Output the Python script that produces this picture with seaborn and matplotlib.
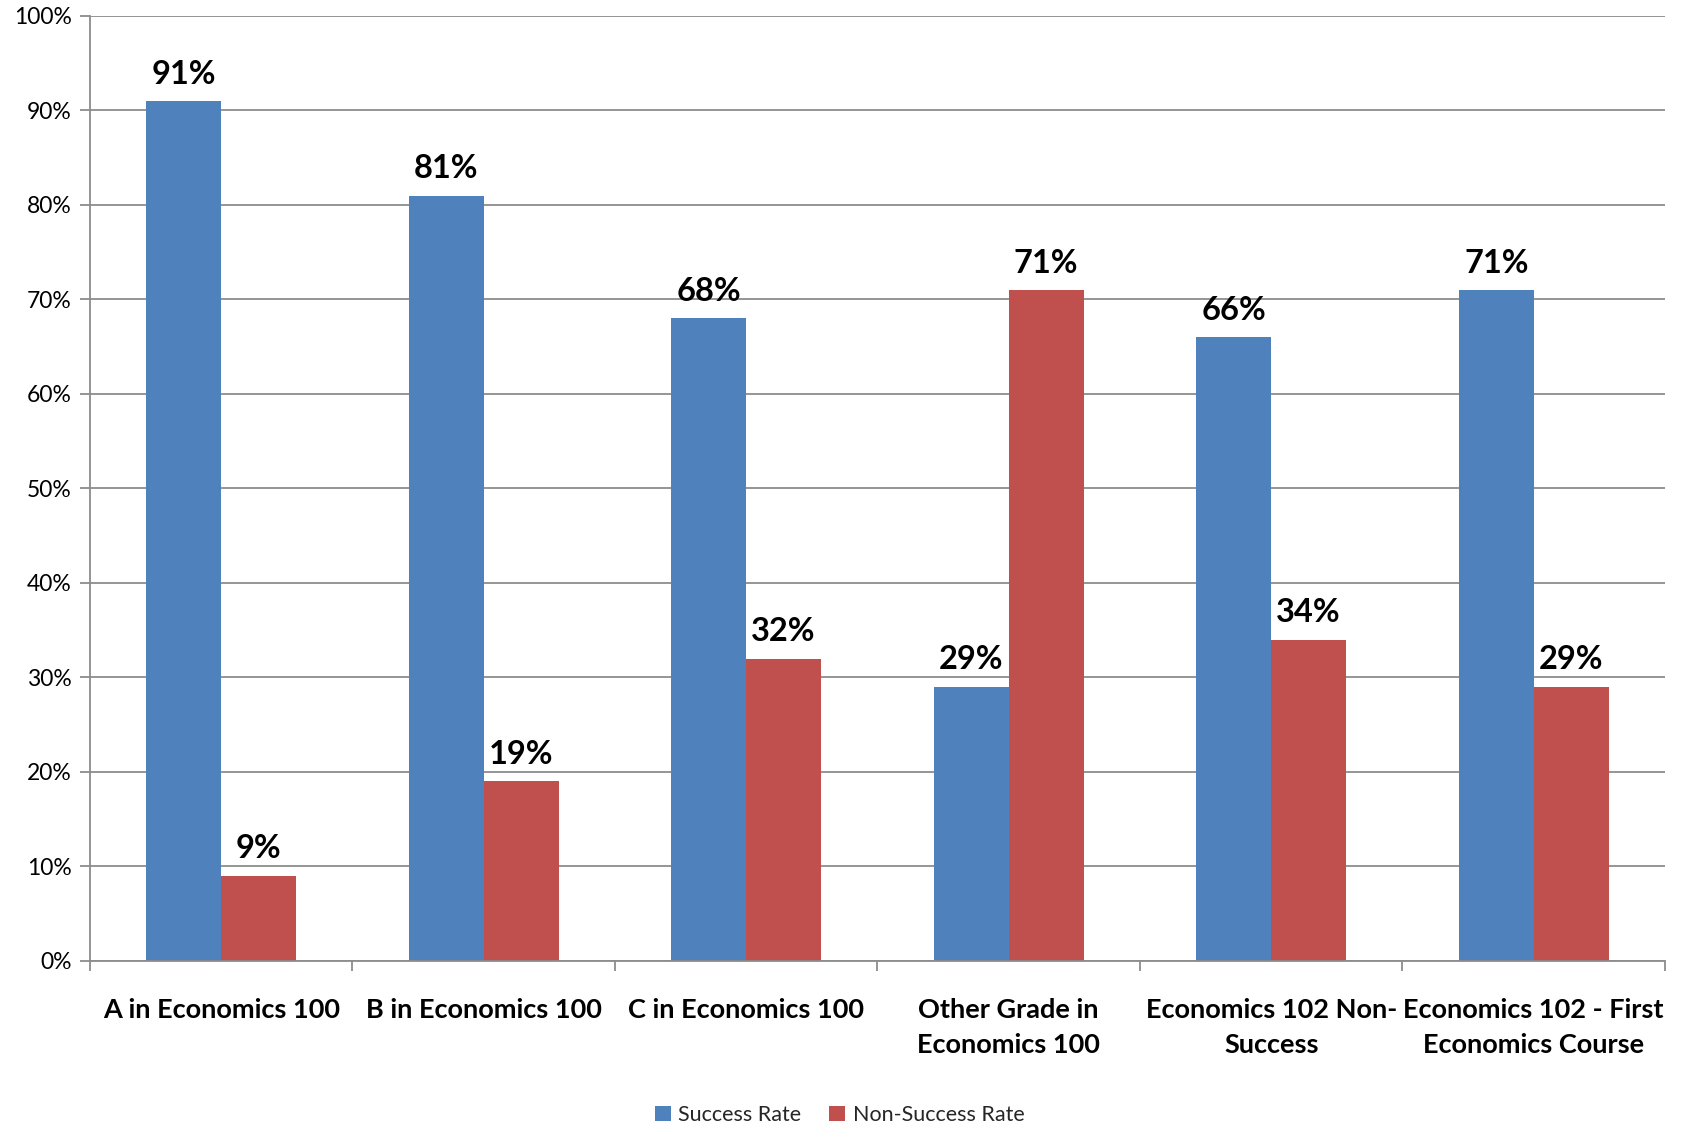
import matplotlib
matplotlib.use("Agg")
import matplotlib.pyplot as plt
import seaborn as sns
import pandas as pd
from matplotlib.ticker import MultipleLocator, FixedLocator, PercentFormatter

categories = [
    "A in Economics 100",
    "B in Economics 100",
    "C in Economics 100",
    "Other Grade in\nEconomics 100",
    "Economics 102 Non-\nSuccess",
    "Economics 102 - First\nEconomics Course",
]
success_rate = [91, 81, 68, 29, 66, 71]
non_success_rate = [9, 19, 32, 71, 34, 29]
series_names = ["Success Rate", "Non-Success Rate"]
colors = ["#4F81BD", "#C0504D"]

df = pd.DataFrame({
    "Category": categories * 2,
    "Rate": success_rate + non_success_rate,
    "Series": [series_names[0]] * len(categories) + [series_names[1]] * len(categories),
})

sns.set_theme(style="white")
plt.rcParams["font.family"] = ["Lato", "DejaVu Sans"]

fig = plt.figure(figsize=(16.84, 11.25), dpi=100)
ax = fig.add_axes([0.0534, 0.1458, 0.9353, 0.84])

sns.barplot(data=df, x="Category", y="Rate", hue="Series", palette=colors,
            width=0.57, saturation=1, linewidth=0, ax=ax, legend=True)

for container in ax.containers:
    ax.bar_label(container, labels=[f"{v:.0f}%" for v in container.datavalues],
                 padding=9, fontsize=23.5, fontweight="bold", color="black")

ax.set_ylim(0, 100)
ax.set_xlim(-0.5, len(categories) - 0.5)
ax.yaxis.set_major_locator(MultipleLocator(10))
ax.yaxis.set_major_formatter(PercentFormatter(decimals=0))
ax.grid(axis="y", color="#8C8C8C", linewidth=1.3)
ax.set_axisbelow(True)

for side in ["top", "right"]:
    ax.spines[side].set_visible(False)
for side in ["left", "bottom"]:
    ax.spines[side].set_color("#8C8C8C")
    ax.spines[side].set_linewidth(1.3)

ax.set_xlabel("")
ax.set_ylabel("")
ax.tick_params(axis="y", which="major", left=True, length=7, width=1.3,
               color="#8C8C8C", labelsize=16.5, pad=6, labelcolor="black")
ax.tick_params(axis="x", which="major", bottom=False, length=0, labelsize=19.5,
               pad=27, labelcolor="black")
ax.xaxis.set_minor_locator(FixedLocator([i - 0.5 for i in range(len(categories) + 1)]))
ax.tick_params(axis="x", which="minor", bottom=True, length=7, width=1.3, color="#8C8C8C")
for lbl in ax.get_xticklabels():
    lbl.set_fontweight("bold")
    lbl.set_linespacing(1.55)

ax.legend(loc="center", bbox_to_anchor=(0.476, -0.163), ncol=2, frameon=False,
          fontsize=15.5, handlelength=0.75, handleheight=0.75, columnspacing=1.3,
          handletextpad=0.35)

fig.savefig("out.png", dpi=100, facecolor="white")
